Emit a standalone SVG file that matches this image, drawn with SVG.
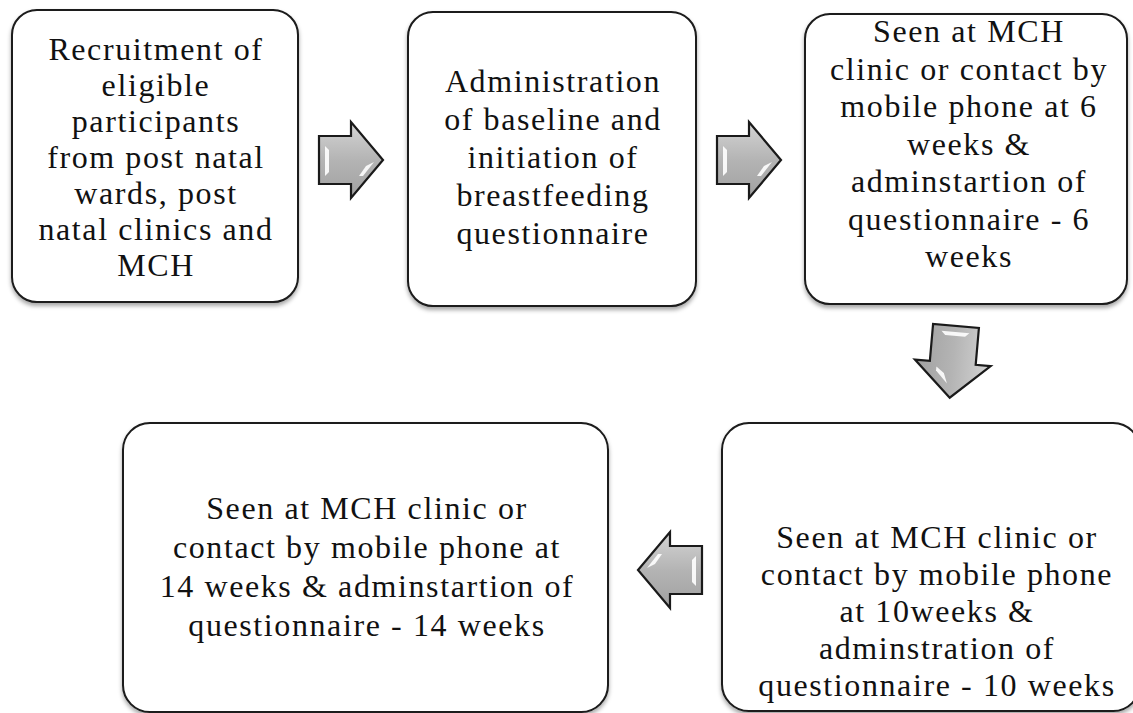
<svg xmlns="http://www.w3.org/2000/svg" width="1133" height="713" viewBox="0 0 1133 713">
<defs>
<filter id="sh" x="-5%" y="-5%" width="110%" height="115%">
<feDropShadow dx="0" dy="3" stdDeviation="2" flood-color="#000" flood-opacity="0.35"/>
</filter>
<linearGradient id="ag" x1="0" y1="0" x2="0" y2="1">
<stop offset="0" stop-color="#d4d4d4"/>
<stop offset="0.5" stop-color="#b4b4b4"/>
<stop offset="1" stop-color="#a0a0a0"/>
</linearGradient>
</defs>
<style>
.box{fill:#fff;stroke:#1a1a1a;stroke-width:2;filter:url(#sh)}
.t{font-family:"Liberation Serif","Times New Roman",serif;font-size:32px;letter-spacing:1.6px;fill:#111;text-anchor:middle}
.arr{fill:url(#ag);stroke:#1a1a1a;stroke-width:2.2;stroke-linejoin:miter}
.hl{fill:#fff;opacity:0.9}
</style>
<rect width="1133" height="713" fill="#fff"/>

<g id="n1">
<rect class="box" x="12" y="10" width="286" height="292" rx="25"/>
<text class="t"><tspan x="156" y="60">Recruitment of</tspan><tspan x="156" y="96">eligible</tspan><tspan x="156" y="132">participants</tspan><tspan x="156" y="168">from post natal</tspan><tspan x="156" y="204">wards, post</tspan><tspan x="156" y="240">natal clinics and</tspan><tspan x="156" y="276">MCH</tspan></text>
</g>

<g id="n2">
<rect class="box" x="408" y="12" width="288" height="294" rx="25"/>
<text class="t"><tspan x="553" y="92">Administration</tspan><tspan x="553" y="130">of baseline and</tspan><tspan x="553" y="168">initiation of</tspan><tspan x="553" y="206">breastfeeding</tspan><tspan x="553" y="244">questionnaire</tspan></text>
</g>

<g id="n3">
<rect class="box" x="805" y="14" width="322" height="290" rx="25"/>
<text class="t"><tspan x="969" y="42">Seen at MCH</tspan><tspan x="969" y="80">clinic or contact by</tspan><tspan x="969" y="117">mobile phone at 6</tspan><tspan x="969" y="155">weeks &amp;</tspan><tspan x="969" y="192">adminstartion of</tspan><tspan x="969" y="230">questionnaire - 6</tspan><tspan x="969" y="267">weeks</tspan></text>
</g>

<g id="n4">
<rect class="box" x="722" y="423" width="418" height="288" rx="27"/>
<text class="t"><tspan x="937" y="548">Seen at MCH clinic or</tspan><tspan x="937" y="585">contact by mobile phone</tspan><tspan x="937" y="622">at 10weeks &amp;</tspan><tspan x="937" y="659">adminstration of</tspan><tspan x="937" y="696">questionnaire - 10 weeks</tspan></text>
</g>

<g id="n5">
<rect class="box" x="123" y="423" width="485" height="289" rx="27"/>
<text class="t"><tspan x="367" y="519">Seen at MCH clinic or</tspan><tspan x="367" y="558">contact by mobile phone at</tspan><tspan x="367" y="597">14 weeks &amp; adminstartion of</tspan><tspan x="367" y="636">questionnaire - 14 weeks</tspan></text>
</g>

<g id="connectors">
<g transform="translate(319,160)">
<path class="arr" d="M0,-24 H32 V-38 L64,0 L32,38 V24 H0 Z"/>
<path class="hl" d="M6,-14 L10,-10 V12 L6,16 Z"/>
<path class="hl" d="M47,6 L55,2 L44,16 L40,16 Z" opacity="0.8"/>
</g>
<g transform="translate(717,160)">
<path class="arr" d="M0,-24 H32 V-38 L64,0 L32,38 V24 H0 Z"/>
<path class="hl" d="M6,-14 L10,-10 V12 L6,16 Z"/>
<path class="hl" d="M47,6 L55,2 L44,16 L40,16 Z" opacity="0.8"/>
</g>
<g transform="translate(956,326) rotate(95)">
<path class="arr" d="M0,-23 H37 V-38 L72,0 L37,38 V23 H0 Z"/>
<path class="hl" d="M6,14 L10,10 V-10 L6,-14 Z" opacity="0.8"/>
<path class="hl" d="M48,8 L58,4 L46,16 L42,16 Z" opacity="0.8"/>
</g>
<g transform="translate(702,570) scale(-1,1)">
<path class="arr" d="M0,-24 H32 V-38 L64,0 L32,38 V24 H0 Z"/>
<path class="hl" d="M6,-14 L10,-10 V12 L6,16 Z"/>
<path class="hl" d="M47,-6 L55,-2 L44,-16 L40,-16 Z" opacity="0.8"/>
</g>
</g>
</svg>
